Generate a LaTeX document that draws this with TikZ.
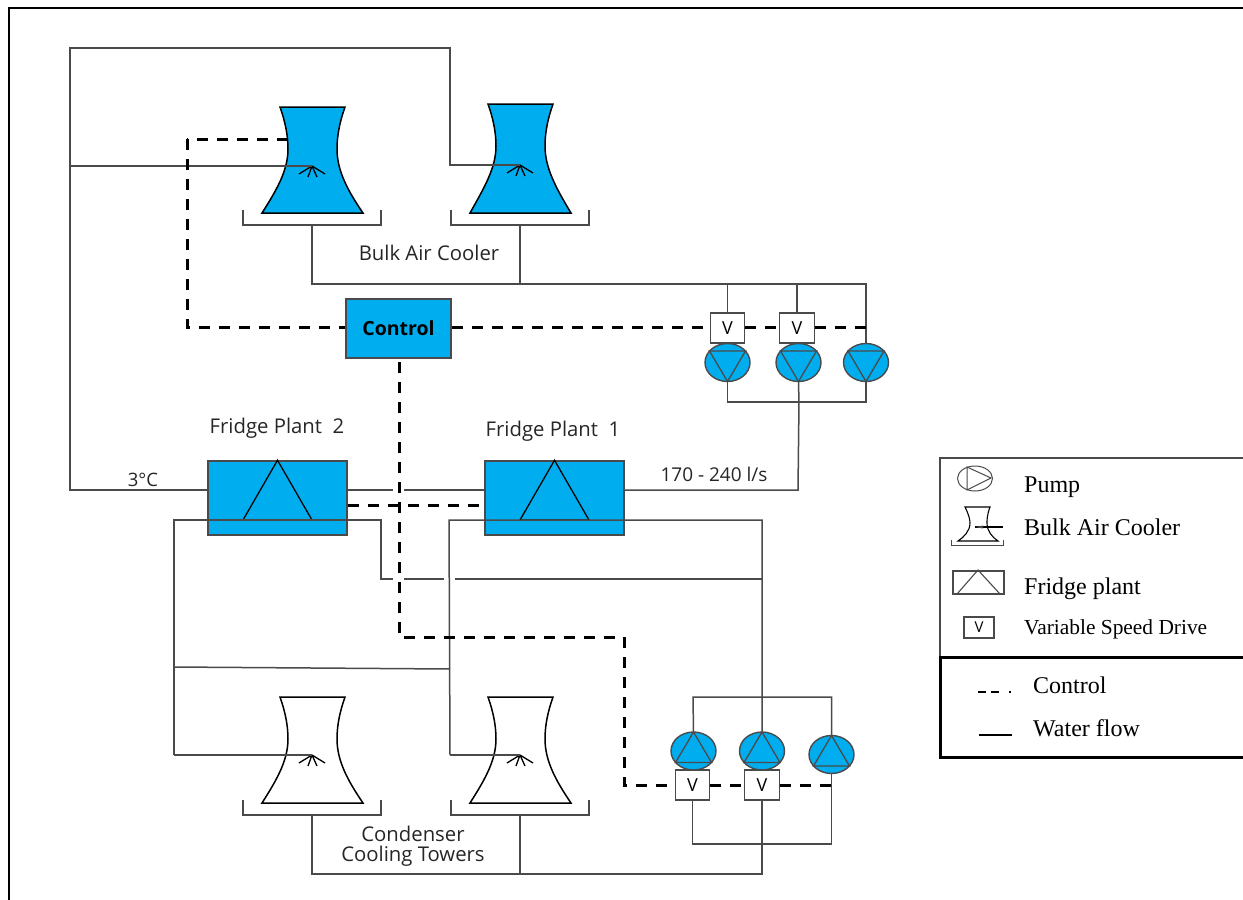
\documentclass[tikz,border=0pt]{standalone}
\usepackage{fontspec}
\setmainfont{Liberation Serif}
\newfontfamily\labelfont{Open Sans}
\usetikzlibrary{shapes.geometric}
\definecolor{cy}{HTML}{00AEEF}
\definecolor{ln}{HTML}{4A4A4A}
\tikzset{
  pipe/.style={draw=ln,line width=1.5pt},
  ctl/.style={draw=black,line width=3pt,dash pattern=on 11pt off 9pt},
  plant/.style={draw=ln,line width=1.5pt,fill=cy,minimum width=139pt,minimum height=74pt,inner sep=0pt},
  vsd/.style={draw=ln,line width=1.4pt,fill=white,minimum width=34.5pt,minimum height=30pt,inner sep=0pt,font=\labelfont\fontsize{18}{18}\selectfont},
  lab/.style={inner sep=0pt,font=\labelfont\fontsize{20.3}{20}\selectfont,text=black!85,align=center},
  leg/.style={inner sep=0pt,anchor=base west,font=\fontsize{24}{24}\selectfont},
}
% pump: #1 name, #2 centre, #3 direction (1 = triangle points down, -1 = up)
\newcommand\drawpump[3]{%
  \begin{scope}[shift={#2}]
    \node[draw=ln,line width=1.4pt,fill=cy,ellipse,minimum width=45pt,minimum height=38pt,inner sep=0pt] (#1) {};
    \draw[draw=ln,line width=1.3pt] (-18,-11.5*#3) -- (18,-11.5*#3) -- (0,19*#3) -- cycle;
  \end{scope}}
% tower: #1 name, #2 centre x, #3 top y, #4 height, #5 fill, #6 spray dy
\newcommand\drawtower[6]{%
  \begin{scope}[shift={(#2,#3)}]
    \draw[draw=black,line width=1.5pt,fill=#5]
      (-32,0) -- (33,0) .. controls (28,14) and (25,28) .. (25,42)
      .. controls (25,64) and (36,84) .. (51,#4)
      -- (-50,#4) .. controls (-36,84) and (-24,64) .. (-24,42)
      .. controls (-24,28) and (-27,14) .. (-32,0) -- cycle;
    \coordinate (#1spray) at (0,#6);
    \draw[line width=1.3pt,black] (#1spray) -- (-13,#6+8) (#1spray) -- (-4,#6+11) (#1spray) -- (5,#6+11) (#1spray) -- (13,#6+8);
    \draw[pipe] (-69,#4-3) |- (69,#4+12) -- (69,#4-3);
    \coordinate (#1tray) at (0,#4+12);
  \end{scope}}
\begin{document}
\begin{tikzpicture}[x=1pt,y=-1pt]
\useasboundingbox (0,0) rectangle (1243,900);
\fill[white] (0,0) rectangle (1243,900);
% page frame
\coordinate (fa) at (9,900); \coordinate (fb) at (9,8); \coordinate (fc) at (1243,8);
\draw[black,line width=2pt] (fa) -- (fb) -- (fc);

% towers
\drawtower{baca}{312}{107}{106}{cy}{59}
\drawtower{bacb}{520}{104}{109}{cy}{61}
\drawtower{cta}{312}{697}{106}{white}{58}
\drawtower{ctb}{520}{697}{106}{white}{58}

% plants
\node[plant] (fp2) at (277.5,498) {};
\node[plant] (fp1) at (554.5,498) {};
\draw[draw=black,line width=1.3pt] (fp2.north) -- (243,520) -- (312,520) -- cycle;
\draw[draw=black,line width=1.3pt] (fp1.north) -- (520,520) -- (589,520) -- cycle;

% control
\node[draw=ln,line width=1.5pt,fill=cy,minimum width=105pt,minimum height=59pt,inner sep=0pt,font=\labelfont\bfseries\fontsize{19.5}{19.5}\selectfont] (ctrl) at (398.5,328.5) {Control};

% upper pumps and drives
\drawpump{pa}{(727.5,362.5)}{1}
\drawpump{pb}{(798.5,362.5)}{1}
\drawpump{pc}{(866,362.5)}{1}
\node[vsd] (va) at (727.5,328) {V};
\node[vsd] (vb) at (797,328) {V};
% lower pumps and drives
\drawpump{pd}{(693.5,751)}{-1}
\drawpump{pe}{(762,751)}{-1}
\drawpump{pf}{(831.5,754.5)}{-1}
\node[vsd] (vd) at (692.5,785) {V};
\node[vsd] (ve) at (762,785) {V};

% junctions
\coordinate (tl) at (70,48);
\coordinate (tr) at (450,48);
\coordinate (upbus) at (520,284);
\coordinate (upbusl) at (312,284);
\coordinate (upbusr) at (866,284);
\coordinate (upret) at (727.5,402);
\coordinate (upretr) at (866,402);
\coordinate (upretm) at (799,402);
\coordinate (flow) at (798,490);
\coordinate (c1) at (174,520);
\coordinate (c2) at (381,520);
\coordinate (c3) at (381,579);
\coordinate (c4) at (762,579);
\coordinate (d1) at (449,520);
\coordinate (d2) at (762,520);
\coordinate (e1) at (174,667);
\coordinate (e2) at (450,669);
\coordinate (g1) at (174,755);
\coordinate (g2) at (450,755);
\coordinate (lpt) at (693,697);
\coordinate (lptr) at (831.5,697);
\coordinate (lpb) at (692.5,844);
\coordinate (lpbr) at (831.5,844);
\coordinate (lbus) at (762,874);
\coordinate (lbusl) at (312,874);
\coordinate (lbusm) at (520,874);
\coordinate (gapa) at (393,490);
\coordinate (gapb) at (404,490);
\coordinate (gapc) at (393,579);
\coordinate (gapd) at (404,579);
\coordinate (gape) at (444,579);
\coordinate (gapf) at (455,579);

% water, chilled side
\draw[pipe] (bacbspray) -- (450,165) -- (tr) -- (tl) -- (70,490) -- (fp2.west |- 0,490);
\draw[pipe] (70,166) -- (bacaspray);
\draw[pipe] (fp2.east |- 0,490) -- (gapa);
\draw[pipe] (gapb) -- (fp1.west |- 0,490);
\draw[pipe] (fp1.east |- 0,490) -- (flow) -- (upretm) -- (pb.south);
\draw[pipe] (bacatray) -- (upbusl) -- (upbusr) -- (pc.north);
\draw[pipe] (bacbtray) -- (upbus);
\draw[pipe] (va.north) -- (va.north |- upbus);
\draw[pipe] (vb.north) -- (vb.north |- upbus);
\draw[pipe] (pa.south) -- (upret) -- (upretr) -- (pc.south);

% water, condenser side
\draw[pipe] (g1) -- (c1) -- (c2) -- (c3) -- (gapc);
\draw[pipe] (gapd) -- (gape);
\draw[pipe] (gapf) -- (c4);
\draw[pipe] (g1) -- (ctaspray);
\draw[pipe] (g2) -- (d1) -- (d2) -- (pe.north);
\draw[pipe] (g2) -- (ctbspray);
\draw[pipe] (e1) -- (e2);
\draw[pipe] (pd.north) -- (lpt) -- (lptr) -- (pf.north);
\draw[pipe] (pf.south) -- (lpbr) -- (lpb) -- (vd.south);
\draw[pipe] (ve.south) -- (lbus) -- (lbusl) -- (ctatray);
\draw[pipe] (ctbtray) -- (lbusm);

% control lines
\draw[ctl] (288,139) -- (187,139);
\draw[ctl] (187,139) -- (187,327) -- (ctrl.west |- 0,327);
\draw[ctl] (ctrl.east |- 0,327) -- (va.west |- 0,327);
\draw[ctl] (va.east |- 0,327) -- (vb.west |- 0,327);
\draw[ctl] (vb.east |- 0,327) -- (866,327);
\draw[ctl] (fp2.east |- 0,505) -- (fp1.west |- 0,505);
\draw[ctl] (399,362) -- (399,637) -- (624,637) -- (624,785) -- (vd.west);
\draw[ctl] (vd.east) -- (ve.west);
\draw[ctl] (ve.east) -- (832,785);

% labels
\node[lab] (t1) at (429,253) {Bulk Air Cooler};
\node[lab] (t2) at (277,428) {Fridge Plant\ \ 2};
\node[lab] (t3) at (553,431) {Fridge Plant\ \ 1};
\node[lab,font=\labelfont\fontsize{18.5}{20}\selectfont] (t4) at (143,480) {3°C};
\node[lab,font=\labelfont\fontsize{19}{20}\selectfont] (t5) at (714,474) {170 - 240 l/s};
\node[lab] (t6) at (413,846) {Condenser\\Cooling Towers};

% legend
\draw[draw=ln,line width=1.2pt] (1243,458) -- (940,458) -- (940,657);
\draw[black,line width=3pt] (1243,657) -- (940,657) -- (940,757) -- (1243,757);
\draw[draw=ln,line width=1pt] (975,478.5) ellipse (17.5 and 12.5);
\draw[draw=ln,line width=1pt] (967,467) -- (991,478) -- (967,490) -- cycle;
\node[leg] (l1) at (1024,492) {Pump};
\begin{scope}[shift={(978,507)}]
  \draw[draw=black,line width=1.1pt] (-13,0) -- (12,0) .. controls (9,8) and (9,13) .. (9,16) .. controls (9,24) and (14,30) .. (20,34) -- (-20,34) .. controls (-14,30) and (-8,24) .. (-8,16) .. controls (-8,13) and (-9,8) .. (-13,0) -- cycle;
  \draw[draw=ln,line width=.9pt] (-27,33) |- (25,38) -- (25,33);
  \coordinate (lbs) at (-3,20);
  \coordinate (lbe) at (25,20);
  \draw[black,line width=1.1pt] (lbs) -- (lbe);
  \fill[ln] (-3,20) -- (5,18.5) -- (5,21.5) -- cycle;
\end{scope}
\node[leg] (l2) at (1024,535) {Bulk Air Cooler};
\draw[draw=ln,line width=1.1pt] (953,571) rectangle (1004,594);
\draw[draw=ln,line width=1.1pt] (957,594) -- (978,570) -- (1000,594);
\node[leg] (l3) at (1024,594) {Fridge plant};
\node[draw=ln,line width=1.1pt,minimum width=30pt,minimum height=21pt,inner sep=0pt,font=\labelfont\fontsize{15}{15}\selectfont] (lv) at (979,627.5) {V};
\node[leg,font=\fontsize{21.4}{21.4}\selectfont] (l4) at (1024,634) {Variable Speed Drive};
\node[leg] (l5) at (1033,693) {Control};
\coordinate (la) at (978,692); \coordinate (lb) at (1012,692);
\draw[black,line width=1.8pt,dash pattern=on 8pt off 5pt on 8pt off 10pt on 2pt off 10pt] (la) -- (lb);
\node[leg] (l6) at (1033,736) {Water flow};
\coordinate (lc) at (979,735); \coordinate (ld) at (1012,735);
\draw[black,line width=2pt] (lc) -- (ld);
\end{tikzpicture}
\end{document}
